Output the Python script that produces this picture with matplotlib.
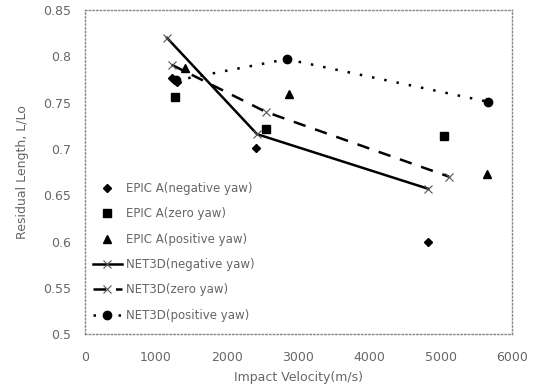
import matplotlib
matplotlib.use('Agg')
import matplotlib.pyplot as plt

# EPIC A test points
epic_neg_v = [1230, 1300, 2410, 4820]
epic_neg_l = [0.777, 0.772, 0.701, 0.600]
epic_zero_v = [1265, 2545, 5045]
epic_zero_l = [0.756, 0.722, 0.714]
epic_pos_v = [1405, 2870, 5655]
epic_pos_l = [0.787, 0.759, 0.673]

# NET3D results
net_neg_v = [1155, 2420, 4825]
net_neg_l = [0.820, 0.716, 0.657]
net_zero_v = [1220, 2545, 5120]
net_zero_l = [0.791, 0.740, 0.670]
net_pos_v = [1280, 2835, 5665]
net_pos_l = [0.774, 0.797, 0.751]

x_ticks = [0, 1000, 2000, 3000, 4000, 5000, 6000]
y_ticks = [0.5, 0.55, 0.6, 0.65, 0.7, 0.75, 0.8, 0.85]

plt.rcParams['font.family'] = ['DejaVu Sans']
grey = '#666666'

fig = plt.figure(figsize=(5.4, 3.89), dpi=100)
ax = fig.add_axes([0.157, 0.141, 0.791, 0.833])

ax.plot(epic_neg_v, epic_neg_l, linestyle='none', marker='D', ms=4.5,
        color='black', label='EPIC A(negative yaw)')
ax.plot(epic_zero_v, epic_zero_l, linestyle='none', marker='s', ms=6,
        color='black', label='EPIC A(zero yaw)')
ax.plot(epic_pos_v, epic_pos_l, linestyle='none', marker='^', ms=6,
        color='black', label='EPIC A(positive yaw)')
ax.plot(net_neg_v, net_neg_l, linestyle='-', lw=1.8, color='black',
        marker='x', ms=6, mew=0.8, mec='#555555', label='NET3D(negative yaw)')
ax.plot(net_zero_v, net_zero_l, linestyle=(0, (5, 4)), lw=1.8, color='black',
        marker='x', ms=6, mew=0.8, mec='#555555', label='NET3D(zero yaw)')
ax.plot(net_pos_v, net_pos_l, linestyle=(0, (1, 4)), lw=1.8, color='black',
        marker='o', ms=6, label='NET3D(positive yaw)')

ax.set_xlim(0, 6000)
ax.set_ylim(0.5, 0.85)
ax.set_xticks(x_ticks)
ax.set_xticklabels([str(t) for t in x_ticks])
ax.set_yticks(y_ticks)
ax.set_yticklabels(['0.5', '0.55', '0.6', '0.65', '0.7', '0.75', '0.8', '0.85'])
ax.tick_params(axis='x', length=0, pad=12, labelsize=9, labelcolor=grey)
ax.tick_params(axis='y', length=0, pad=10, labelsize=9, labelcolor=grey)

for s in ax.spines.values():
    s.set_linestyle(':')
    s.set_color('#888888')
    s.set_linewidth(1.0)

ax.set_xlabel('Impact Velocity(m/s)', fontsize=9, color=grey, labelpad=5)
ax.set_ylabel('Residual Length, L/Lo', fontsize=9, color=grey, labelpad=10)

leg = ax.legend(loc='upper left', bbox_to_anchor=(0.02, 0.47), frameon=False,
                fontsize=8.5, labelspacing=1.05, handlelength=2.4,
                handletextpad=0.35, borderaxespad=0.0, borderpad=0.0)
for t in leg.get_texts():
    t.set_color(grey)

fig.savefig('out.png', dpi=100)
